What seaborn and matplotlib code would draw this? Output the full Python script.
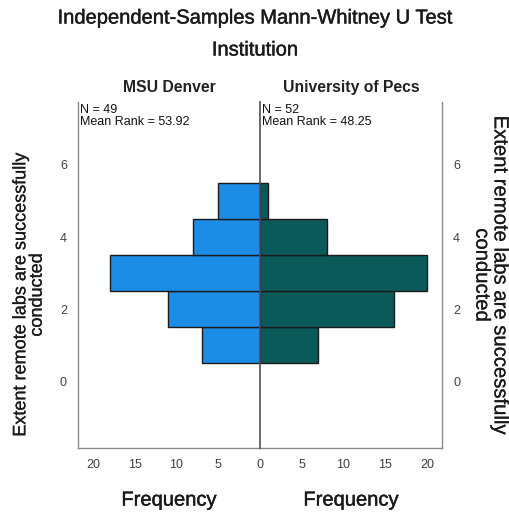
import matplotlib
matplotlib.use("Agg")
import matplotlib.pyplot as plt
import matplotlib.patheffects as pe
import seaborn as sns
import pandas as pd

ratings = [1, 2, 3, 4, 5]
msu_counts = [7, 11, 18, 8, 5]
pecs_counts = [7, 16, 20, 8, 1]
groups = ["MSU Denver", "University of Pecs"]
group_stats = ["N = 49\nMean Rank = 53.92", "N = 52\nMean Rank = 48.25"]
y_ticks = [0, 2, 4, 6]
x_ticks = [0, 5, 10, 15, 20]

sns.set_theme(style="white")
plt.rcParams['font.family'] = ['Liberation Sans', 'DejaVu Sans']

fig = plt.figure(figsize=(5.1, 5.12), dpi=100)
L, M, R = 78/510, 260/510, 442/510
B, T = 1 - 448/512, 1 - 101.5/512
axL = fig.add_axes([L, B, M - L, T - B])
axR = fig.add_axes([M, B, R - M, T - B])

df_l = pd.DataFrame({"rating": ratings, "count": msu_counts})
df_r = pd.DataFrame({"rating": ratings, "count": pecs_counts})

blue = "#1C8DE6"
teal = "#0A5A5A"
sns.barplot(data=df_l, x="count", y="rating", orient="h", native_scale=True,
            width=1, color=blue, saturation=1, edgecolor="#1a1a1a", linewidth=1,
            errorbar=None, ax=axL)
sns.barplot(data=df_r, x="count", y="rating", orient="h", native_scale=True,
            width=1, color=teal, saturation=1, edgecolor="#1a1a1a", linewidth=1,
            errorbar=None, ax=axR)

ylim = (-1.85, 7.76)
xmax = 21.8
axL.set_xlim(xmax, 0)
axR.set_xlim(0, xmax)
for ax in (axL, axR):
    ax.set_ylim(*ylim)
    ax.set_ylabel("")
    ax.set_xlabel("")
    ax.tick_params(length=0, labelsize=9, labelcolor="#404040", pad=8)
    ax.spines['top'].set_visible(False)
    for s in ax.spines.values():
        s.set_color("#8a8a8a")
        s.set_linewidth(1)

axL.set_xticks([20, 15, 10, 5, 0])
axR.set_xticks([5, 10, 15, 20])
axL.set_yticks(y_ticks)
axR.set_yticks(y_ticks)
axR.yaxis.tick_right()
axL.spines['right'].set_visible(False)
axR.spines['left'].set_color("#505050")
axR.spines['left'].set_linewidth(1.2)
axR.spines['left'].set_zorder(6)

heavy = [pe.withStroke(linewidth=0.3, foreground="#1a1a1a")]
light = [pe.withStroke(linewidth=0.15, foreground="#1a1a1a")]

axL.set_title(groups[0], fontsize=11.3, fontweight="bold", pad=6.5, color="#222222")
axR.set_title(groups[1], fontsize=11.3, fontweight="bold", pad=6.5, color="#222222")
axL.text(0.012, 0.993, group_stats[0], transform=axL.transAxes, ha="left", va="top",
         fontsize=9, linespacing=1.05, color="#111111")
axR.text(0.012, 0.993, group_stats[1], transform=axR.transAxes, ha="left", va="top",
         fontsize=9, linespacing=1.05, color="#111111")

for ax in (axL, axR):
    ax.set_xlabel("Frequency", fontsize=14.5, labelpad=14, path_effects=heavy,
                  color="#1a1a1a")

fig.text(0.5, 1 - 18/512, "Independent-Samples Mann-Whitney U Test", ha="center", va="center",
         fontsize=14.5, path_effects=heavy, color="#1a1a1a")
fig.text(0.5, 1 - 50/512, "Institution", ha="center", va="center", fontsize=14.5,
         path_effects=heavy, color="#1a1a1a")

ylab = "Extent remote labs are successfully\nconducted"
fig.text(29/510, 1 - 295/512, ylab, rotation=90, ha="center", va="center", fontsize=13,
         linespacing=0.95, path_effects=light, color="#1a1a1a")
fig.text(491/510, 1 - 275/512, ylab, rotation=270, ha="center", va="center", fontsize=14.6,
         linespacing=0.95, path_effects=light, color="#1a1a1a")

fig.savefig("out.png", dpi=100, facecolor="white")
